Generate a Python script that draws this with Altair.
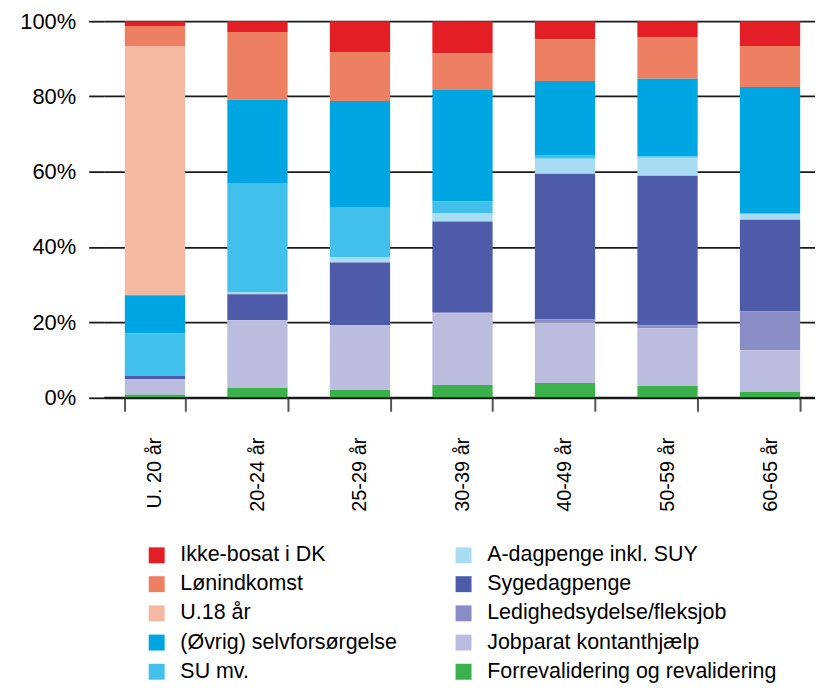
import altair as alt
import pandas as pd

ages = ["U. 20 år", "20-24 år", "25-29 år", "30-39 år", "40-49 år", "50-59 år", "60-65 år"]

categories = [
    "Ikke-bosat i DK",
    "Lønindkomst",
    "U.18 år",
    "(Øvrig) selvforsørgelse",
    "SU mv.",
    "A-dagpenge inkl. SUY",
    "Sygedagpenge",
    "Ledighedsydelse/fleksjob",
    "Jobparat kontanthjælp",
    "Forrevalidering og revalidering",
]

colors = [
    "#e31e24", "#ed8062", "#f4b9a3", "#00a6e2", "#42c0ec",
    "#a8dcf3", "#4e5ba9", "#8a8cc6", "#bcbcdf", "#3ab14a",
]

ikke_bosat = [1.3, 2.9, 8.2, 8.5, 4.8, 4.2, 6.6]
loenindkomst = [5.3, 18.0, 13.0, 9.8, 11.1, 11.1, 10.9]
u18 = [66.25, 0, 0, 0, 0, 0, 0]
selvforsoergelse = [10.1, 22.3, 28.4, 29.7, 19.9, 20.7, 33.7]
su = [11.4, 28.8, 13.25, 3.2, 0.8, 0.3, 0]
a_dagpenge = [0, 0.6, 1.3, 2.1, 4.0, 4.8, 1.6]
sygedagpenge = [0.8, 6.9, 16.7, 24.1, 38.7, 39.75, 24.4]
ledighed = [0, 0, 0, 0.3, 0.8, 0.8, 10.3]
jobparat = [4.15, 18.0, 17.2, 19.1, 16.2, 15.4, 11.1]
forrevalidering = [0.7, 2.5, 1.95, 3.3, 3.8, 3.0, 1.4]

series = [ikke_bosat, loenindkomst, u18, selvforsoergelse, su,
          a_dagpenge, sygedagpenge, ledighed, jobparat, forrevalidering]

rows = []
for ci, (cat, vals) in enumerate(zip(categories, series)):
    for age, v in zip(ages, vals):
        rows.append({"age": age, "cat": cat, "value": v, "order": len(categories) - 1 - ci})
df = pd.DataFrame(rows)

FONT = "Liberation Sans"

chart = alt.Chart(df).mark_bar().encode(
    x=alt.X("age:N", sort=ages, title=None,
            scale=alt.Scale(paddingInner=0.412, paddingOuter=0.1755, align=0.588),
            axis=alt.Axis(tickBand="extent", labelAngle=270, labelAlign="right",
                          labelBaseline="middle", labelPadding=26, tickSize=14,
                          tickColor="#555555", tickWidth=2, domainColor="#1a1a1a",
                          domainWidth=2.2, labelFontSize=20, labelFont=FONT,
                          labelColor="#000000", grid=False)),
    y=alt.Y("value:Q", stack="normalize", title=None,
            scale=alt.Scale(domain=[0, 1], nice=False),
            axis=alt.Axis(values=[0, 0.2, 0.4, 0.6, 0.8, 1.0], format=".0%",
                          domain=False, tickSize=15, tickColor="#1a1a1a", tickWidth=1.8,
                          gridColor="#1a1a1a", gridWidth=1.8, labelPadding=13,
                          labelFontSize=22, labelFont=FONT, labelColor="#000000")),
    color=alt.Color("cat:N", title=None,
                    scale=alt.Scale(domain=categories, range=colors),
                    legend=alt.Legend(orient="none", legendX=42.5, legendY=525,
                                      columns=2, symbolType="square", symbolSize=256,
                                      symbolStrokeWidth=0, labelFontSize=21.5,
                                      labelFont=FONT, labelColor="#000000",
                                      labelOffset=13, columnPadding=56,
                                      rowPadding=6.3, padding=0, labelLimit=500)),
    order=alt.Order("order:Q", sort="ascending"),
).properties(
    width=714, height=377.5,
    padding={"left": 11, "top": 1, "right": 0, "bottom": 0},
).configure_view(stroke=None)

chart.save("out.html", embed_options={"renderer": "svg", "actions": False})
